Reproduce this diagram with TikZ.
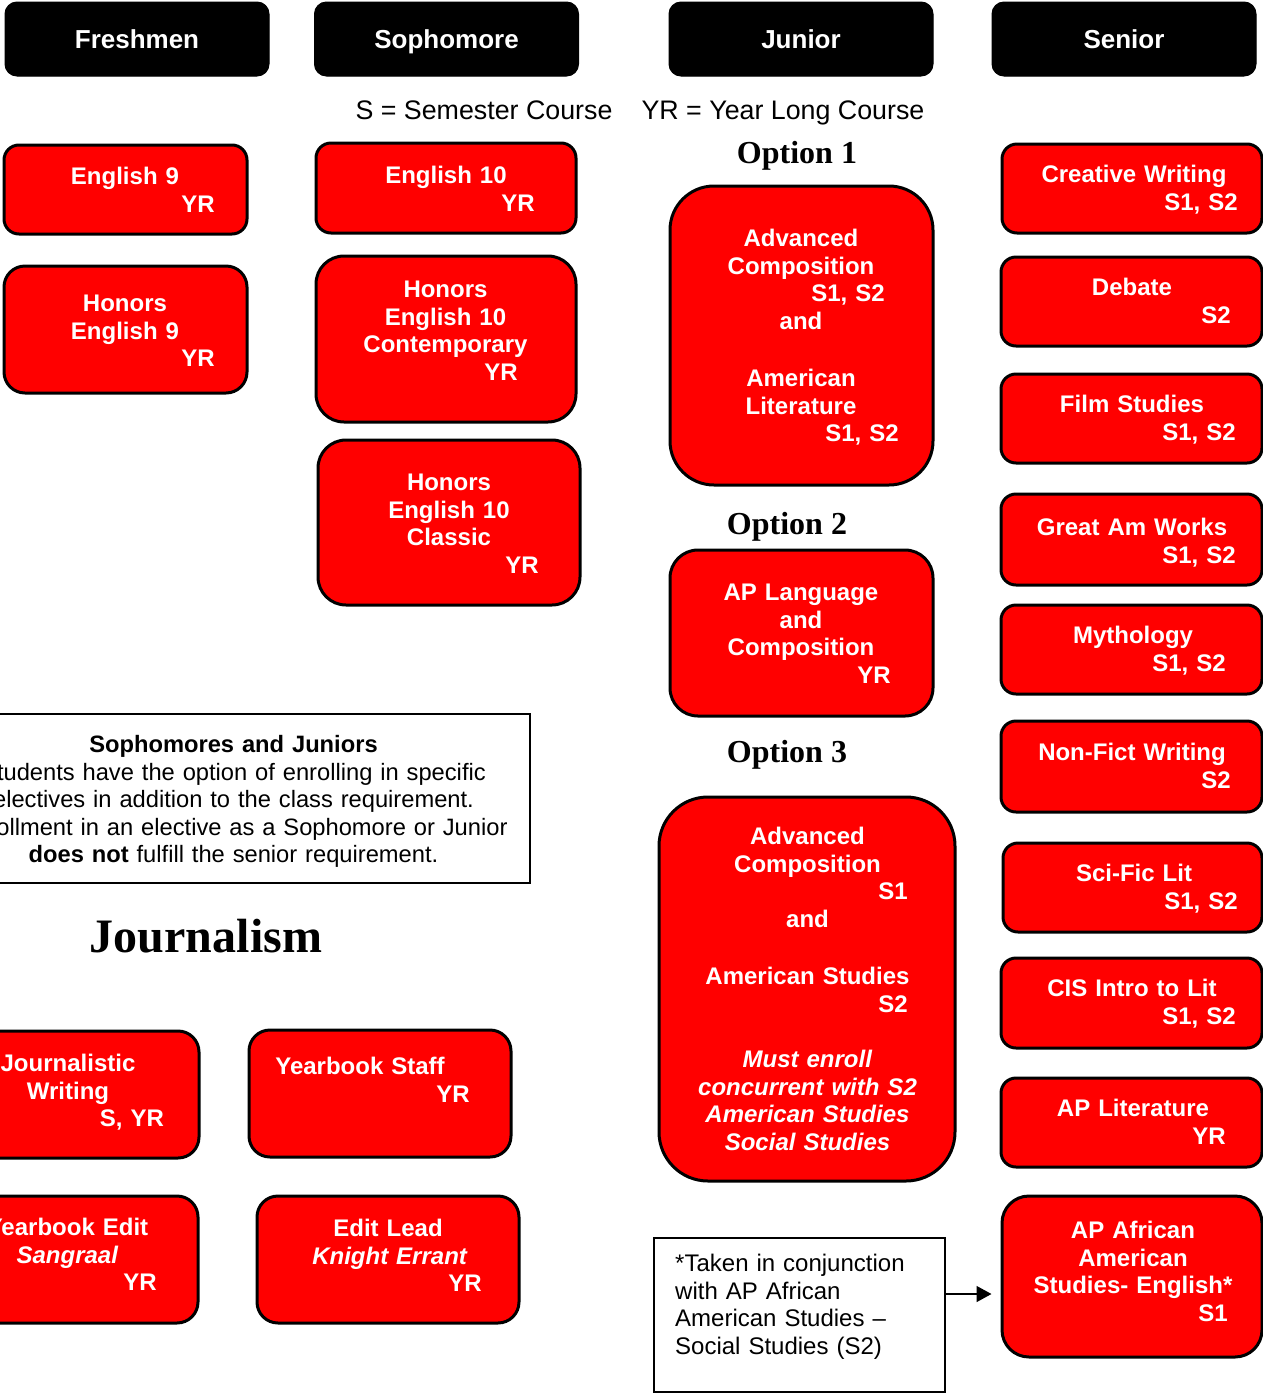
\documentclass[tikz,border=0pt]{standalone}
\usepackage{fontspec}
\setmainfont{Liberation Sans}
\newfontfamily\tnr{Liberation Serif}
\usetikzlibrary{arrows.meta}
\newcommand\sh[1]{\hspace*{#1pt}\hspace*{#1pt}}
\newcommand\rb[6]{\node[redbox, rounded corners=#6pt, minimum width={(#4)-(#2)}, minimum height={(#5)-(#3)}] (#1) at ({((#2)+(#4))/2},{((#3)+(#5))/2}) {};}
\tikzset{
  redbox/.style={draw=black, line width=3pt, fill=red, inner sep=0pt},
  hdr/.style={fill=black, draw=black, line width=1pt, rounded corners=12pt, inner sep=0pt, text=white,
    font=\bfseries\fontsize{26}{30}\selectfont, minimum width=264, minimum height=74,
    text height=18.6pt, text depth=0pt},
  btxt/.style={text=white, font=\bfseries\fontsize{24}{27.7}\selectfont, text width=300pt,
    align=center, anchor=base, inner sep=0pt},
  legend/.style={font=\fontsize{26.8}{30}\selectfont, anchor=base, inner sep=0pt},
  optlbl/.style={font=\tnr\bfseries\fontsize{32}{36}\selectfont, anchor=base, inner sep=0pt},
  plain/.style={font=\fontsize{24}{27.7}\selectfont, inner sep=0pt},
}
\begin{document}
\begin{tikzpicture}[x=1pt,y=-1pt]
\useasboundingbox (0,0) rectangle (1263,1393);
\fill[white] (0,0) rectangle (1263,1393);
\clip (0,0) rectangle (1263,1393);

% headers
\node[hdr] (fr) at (137,39) {Freshmen};
\node[hdr] (so) at (446.5,39) {Sophomore};
\node[hdr] (ju) at (801,39) {Junior};
\node[hdr] (se) at (1124,39) {Senior};

% legend
\node[legend] (lgS) at (484,119) {S = Semester Course};
\node[legend] (lgY) at (783,119) {YR = Year Long Course};

% option labels
\node[optlbl] (o1) at (797,163) {Option 1};
\node[optlbl] (o2) at (787,534) {Option 2};
\node[optlbl] (o3) at (787,762) {Option 3};

% Freshmen
\rb{e9}{4}{145}{247}{234}{15}
\node[btxt] (e9t) at (125,184.5) {English 9\\\sh{73}YR};
\rb{he9}{4}{266}{247}{393}{21}
\node[btxt] (he9t) at (125,311.5) {Honors\\English 9\\\sh{73}YR};

% Sophomore
\rb{e10}{316}{143}{576}{233}{15}
\node[btxt] (e10t) at (446,183.5) {English 10\\\sh{72}YR};
\rb{h10c}{316}{256}{576}{422}{28}
\node[btxt] (h10ct) at (445.5,297.5) {Honors\\English 10\\Contemporary\\\sh{55.5}YR};
\rb{h10k}{318}{440}{580}{605}{28}
\node[btxt] (h10kt) at (449,490.5) {Honors\\English 10\\Classic\\\sh{73}YR};

% Junior
\rb{op1}{670}{186}{933}{485}{44}
\node[btxt] (op1t) at (801,246.5) {Advanced\\Composition\\\sh{47}S1, S2\\and\\[29pt]American\\Literature\\\sh{61}S1, S2};
\rb{op2}{670}{550}{933}{716}{28}
\node[btxt] (op2t) at (801,600.5) {AP Language\\and\\Composition\\\sh{73}YR};
\rb{op3}{659}{797}{955}{1181}{49}
\node[btxt] (op3t) at (807.5,844.5) {Advanced\\Composition\\\sh{85.5}S1\\and\\[29pt]American Studies\\\sh{85.5}S2\\[27.7pt]\textit{Must enroll}\\\textit{concurrent with S2}\\\textit{American Studies}\\\textit{Social Studies}};

% Senior
\rb{cw}{1002}{144}{1262}{233}{15}
\node[btxt] (cwt) at (1134,182.5) {Creative Writing\\\sh{67}S1, S2};
\rb{deb}{1001}{257}{1262}{346}{15}
\node[btxt] (debt) at (1132,295.5) {Debate\\\sh{84}S2};
\rb{film}{1001}{374}{1262}{463}{15}
\node[btxt] (filmt) at (1132,412.5) {Film Studies\\\sh{67}S1, S2};
\rb{gaw}{1001}{494}{1262}{585}{15}
\node[btxt] (gawt) at (1132,535.5) {Great Am Works\\\sh{67}S1, S2};
\rb{myth}{1001}{605}{1262}{694}{15}
\node[btxt] (myt) at (1133,643.5) {Mythology\\\sh{56}S1, S2};
\rb{nfw}{1001}{721}{1262}{812}{15}
\node[btxt] (nfwt) at (1132,760.5) {Non-Fict Writing\\\sh{84}S2};
\rb{sfl}{1003}{843}{1262}{932}{15}
\node[btxt] (sflt) at (1134,881.5) {Sci-Fic Lit\\\sh{67}S1, S2};
\rb{cis}{1001}{958}{1262}{1048}{15}
\node[btxt] (cist) at (1132,996.5) {CIS Intro to Lit\\\sh{67}S1, S2};
\rb{apl}{1001}{1078}{1262}{1167}{15}
\node[btxt] (aplt) at (1133,1116.5) {AP Literature\\\sh{76}YR};
\rb{apaf}{1002}{1196}{1262}{1357}{27}
\node[btxt] (apaft) at (1133,1238.5) {AP African\\American\\Studies- English*\\\sh{80}S1};

% notes box
\node[draw=black, line width=2.5pt, minimum width=593, minimum height=169, inner sep=0pt] (notes) at (233.5,798.5) {};
\node[plain, font=\fontsize{23.7}{27.6}\selectfont, text width=600pt, align=center, anchor=base] (notest) at (233.5,752.5)
  {\textbf{Sophomores and Juniors}\\Students have the option of enrolling in specific\\electives in addition to the class requirement.\\Enrollment in an elective as a Sophomore or Junior\\\textbf{does not} fulfill the senior requirement.};

% Journalism
\node[font=\tnr\bfseries\fontsize{48}{54}\selectfont, anchor=base, inner sep=0pt] (jour) at (206,952) {Journalism};
\rb{jw}{-63}{1031}{199}{1158}{21}
\node[btxt] (jwt) at (68,1071.5) {Journalistic\\Writing\\\sh{64}S, YR};
\rb{ys}{249}{1030}{511}{1157}{21}
\node[btxt] (yst) at (360,1074.5) {Yearbook Staff\\\sh{93}YR};
\rb{ye}{-63}{1196}{198}{1323}{21}
\node[btxt] (yet) at (67.5,1235.5) {Yearbook Edit\\\textit{Sangraal}\\\sh{72.5}YR};
\rb{el}{257}{1196}{519}{1323}{21}
\node[btxt] (elt) at (388,1236.5) {Edit Lead\\\sh{2}\textit{Knight Errant}\\\sh{77}YR};

% footnote box
\node[draw=black, line width=2pt, minimum width=291, minimum height=154, inner sep=0pt] (fn) at (799.5,1315) {};
\node[plain, text width=270pt, align=left, anchor=base west] (fnt) at (675,1271.5)
  {*Taken in conjunction\\with AP African\\American Studies --\\Social Studies (S2)};

% arrow
\coordinate (a1) at ([yshift=21pt]fn.east);
\draw[line width=1.5pt, -{Triangle[length=15pt,width=16pt]}, shorten >=9pt] (a1) -- (a1 -| apaf.west);
\end{tikzpicture}
\end{document}
